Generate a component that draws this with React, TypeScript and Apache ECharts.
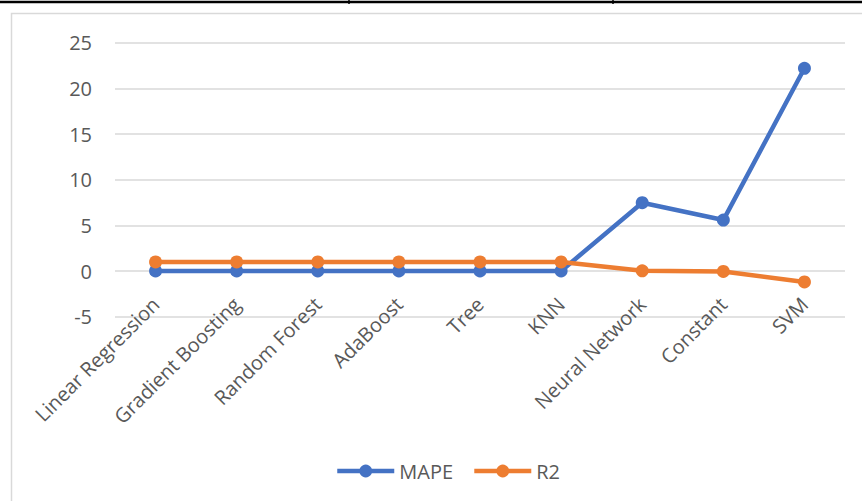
import React, { useEffect, useRef } from "react";
import * as echarts from "echarts";

const categories = [
  "Linear Regression",
  "Gradient Boosting",
  "Random Forest",
  "AdaBoost",
  "Tree",
  "KNN",
  "Neural Network",
  "Constant",
  "SVM",
];
const mapeValues = [0.01, 0.01, 0.01, 0.01, 0.01, 0.01, 7.48, 5.58, 22.2];
const r2Values = [0.99, 0.99, 0.99, 0.99, 0.99, 0.99, 0.02, -0.05, -1.2];
const yTicks = { min: -5, max: 25, interval: 5 };

const FONT = "'Open Sans', 'Noto Sans', sans-serif";
const LABEL = "#595959";
const GRID = "#d9d9d9";

export default function App() {
  const ref = useRef<HTMLDivElement>(null);
  useEffect(() => {
    if (!ref.current) return;
    const chart = echarts.init(ref.current, undefined, { renderer: "svg" });
    chart.setOption({
      animation: false,
      backgroundColor: "#ffffff",
      textStyle: { fontFamily: FONT },
      grid: { left: 115, right: 17, top: 42.7, bottom: 501 - 316.7 },
      xAxis: {
        type: "category",
        data: categories,
        boundaryGap: true,
        axisLine: { show: false, onZero: false },
        axisTick: { show: false },
        axisLabel: {
          rotate: 45,
          interval: 0,
          margin: -16,
          color: LABEL,
          fontSize: 20,
          fontFamily: FONT,
        },
      },
      yAxis: {
        type: "value",
        min: yTicks.min,
        max: yTicks.max,
        interval: yTicks.interval,
        axisLine: { show: false },
        axisTick: { show: false },
        splitLine: { lineStyle: { color: GRID, width: 1.5 } },
        axisLabel: { color: LABEL, fontSize: 20, fontFamily: FONT, margin: 23 },
      },
      legend: {
        left: 330,
        top: 456,
        itemWidth: 57,
        itemHeight: 16,
        itemGap: 19,
        lineStyle: { width: 4.5 },
        textStyle: { color: LABEL, fontSize: 20, fontFamily: FONT },
        data: ["MAPE", "R2"],
      },
      series: [
        {
          name: "MAPE",
          type: "line",
          data: mapeValues,
          symbol: "circle",
          symbolSize: 13,
          lineStyle: { color: "#4472C4", width: 4.5 },
          itemStyle: { color: "#4472C4" },
          z: 2,
        },
        {
          name: "R2",
          type: "line",
          data: r2Values,
          symbol: "circle",
          symbolSize: 13,
          lineStyle: { color: "#ED7D31", width: 4.5 },
          itemStyle: { color: "#ED7D31" },
          z: 3,
        },
      ],
      graphic: [
        {
          type: "rect",
          shape: { x: 11.5, y: 13.5, width: 900, height: 600 },
          style: { fill: "none", stroke: GRID, lineWidth: 1.5 },
          silent: true,
        },
        {
          type: "line",
          shape: { x1: 0, y1: 2, x2: 862, y2: 2 },
          style: { stroke: "#000", lineWidth: 2.5 },
          silent: true,
        },
        {
          type: "line",
          shape: { x1: 349, y1: 0, x2: 349, y2: 4 },
          style: { stroke: "#000", lineWidth: 1.5 },
          silent: true,
        },
        {
          type: "line",
          shape: { x1: 613, y1: 0, x2: 613, y2: 4 },
          style: { stroke: "#000", lineWidth: 1.5 },
          silent: true,
        },
      ],
    });
    return () => chart.dispose();
  }, []);
  return (
    <div style={{ position: "fixed", left: 0, top: 0, width: 862, height: 501 }}>
      <div ref={ref} style={{ width: 862, height: 501 }} />
    </div>
  );
}
